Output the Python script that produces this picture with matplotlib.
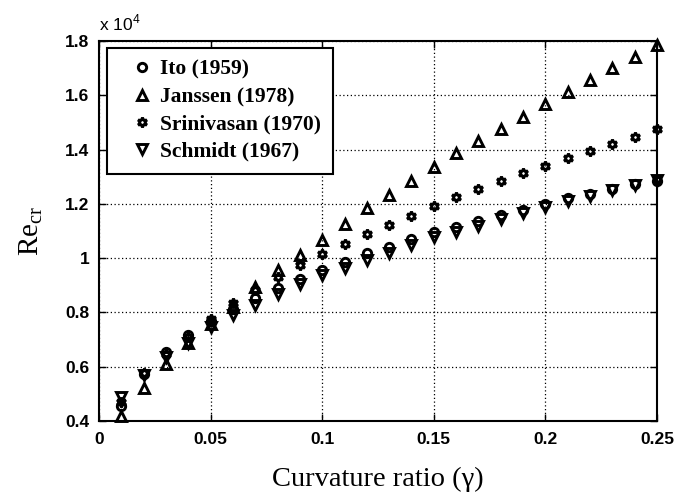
import matplotlib
matplotlib.use("Agg")
import matplotlib.pyplot as plt
import numpy as np

gamma = [0.01, 0.02, 0.03, 0.04, 0.05, 0.06, 0.07, 0.08, 0.09, 0.10, 0.11, 0.12, 0.13,
         0.14, 0.15, 0.16, 0.17, 0.18, 0.19, 0.20, 0.21, 0.22, 0.23, 0.24, 0.25]

ito = [0.455, 0.573, 0.655, 0.717, 0.768, 0.811, 0.852, 0.891, 0.922, 0.956, 0.987, 1.018,
       1.042, 1.069, 1.095, 1.116, 1.138, 1.159, 1.177, 1.200, 1.220, 1.238, 1.256, 1.275, 1.285]
janssen = [0.420, 0.521, 0.609, 0.686, 0.757, 0.821, 0.895, 0.956, 1.010, 1.067, 1.126, 1.183,
           1.233, 1.284, 1.337, 1.386, 1.432, 1.476, 1.521, 1.568, 1.613, 1.656, 1.700, 1.742, 1.785]
srinivasan = [0.471, 0.578, 0.647, 0.708, 0.775, 0.834, 0.883, 0.932, 0.975, 1.015, 1.052, 1.088,
              1.123, 1.156, 1.192, 1.224, 1.254, 1.284, 1.313, 1.341, 1.368, 1.395, 1.420, 1.447, 1.475]
schmidt = [0.490, 0.570, 0.637, 0.689, 0.745, 0.790, 0.827, 0.867, 0.904, 0.938, 0.962, 0.993,
           1.020, 1.048, 1.077, 1.097, 1.119, 1.143, 1.165, 1.187, 1.212, 1.228, 1.250, 1.270, 1.288]

labels = ["Ito (1959)", "Janssen (1978)", "Srinivasan (1970)", "Schmidt (1967)"]

xticks = [0, 0.05, 0.1, 0.15, 0.2, 0.25]
xticklabels = ["0", "0.05", "0.1", "0.15", "0.2", "0.25"]
yticks = [0.4, 0.6, 0.8, 1.0, 1.2, 1.4, 1.6, 1.8]
yticklabels = ["0.4", "0.6", "0.8", "1", "1.2", "1.4", "1.6", "1.8"]

fig = plt.figure(figsize=(6.76, 4.93), dpi=100)
ax = fig.add_axes([0.1464, 0.146, 0.8255, 0.7708])

common = dict(linestyle="none", markerfacecolor="none", markeredgecolor="black",
              markeredgewidth=2.1, clip_on=False)
ax.plot(gamma, ito, marker="o", markersize=6, label=labels[0], **common)
ax.plot(gamma, janssen, marker="^", markersize=7, label=labels[1], **common)
ax.plot(gamma, srinivasan, marker=(6, 1, 0), markersize=7, label=labels[2], **common)
ax.plot(gamma, schmidt, marker="v", markersize=7, label=labels[3], **common)

ax.set_xlim(0, 0.25)
ax.set_ylim(0.4, 1.8)
ax.set_xticks(xticks)
ax.set_xticklabels(xticklabels)
ax.set_yticks(yticks)
ax.set_yticklabels(yticklabels)
ax.grid(True, color="black", linestyle=(0, (1, 2)), linewidth=0.9)
ax.tick_params(direction="in", length=5, width=1.0, top=True, right=True,
               labelsize=12.5)
ax.tick_params(axis="x", pad=8)
ax.tick_params(axis="y", pad=7)
for lab in ax.get_xticklabels() + ax.get_yticklabels():
    lab.set_fontweight("bold")
    lab.set_fontfamily("Liberation Sans")
for sp in ax.spines.values():
    sp.set_linewidth(1.5)
    sp.set_color("black")

ax.set_xlabel("Curvature ratio (γ)", fontsize=20.5, fontfamily="Liberation Serif", labelpad=14)
ax.set_ylabel(r"Re$_{\mathregular{cr}}$", fontsize=21, fontfamily="Liberation Serif", labelpad=14)

ax.text(0.0, 1.02, r"x 10$^{\mathregular{4}}$", transform=ax.transAxes, fontsize=12.5,
        fontfamily="Liberation Sans", ha="left", va="bottom")

leg = ax.legend(loc="upper left", bbox_to_anchor=(0.0143, 0.982), frameon=True, fancybox=False,
                edgecolor="black", framealpha=1.0, handlelength=2.16, handletextpad=-0.24,
                borderpad=0.55, labelspacing=0.34, borderaxespad=0.0,
                prop={"family": "Liberation Serif", "weight": "bold", "size": 15.5})
leg.get_frame().set_linewidth(1.5)

fig.savefig("out.png", dpi=100)
